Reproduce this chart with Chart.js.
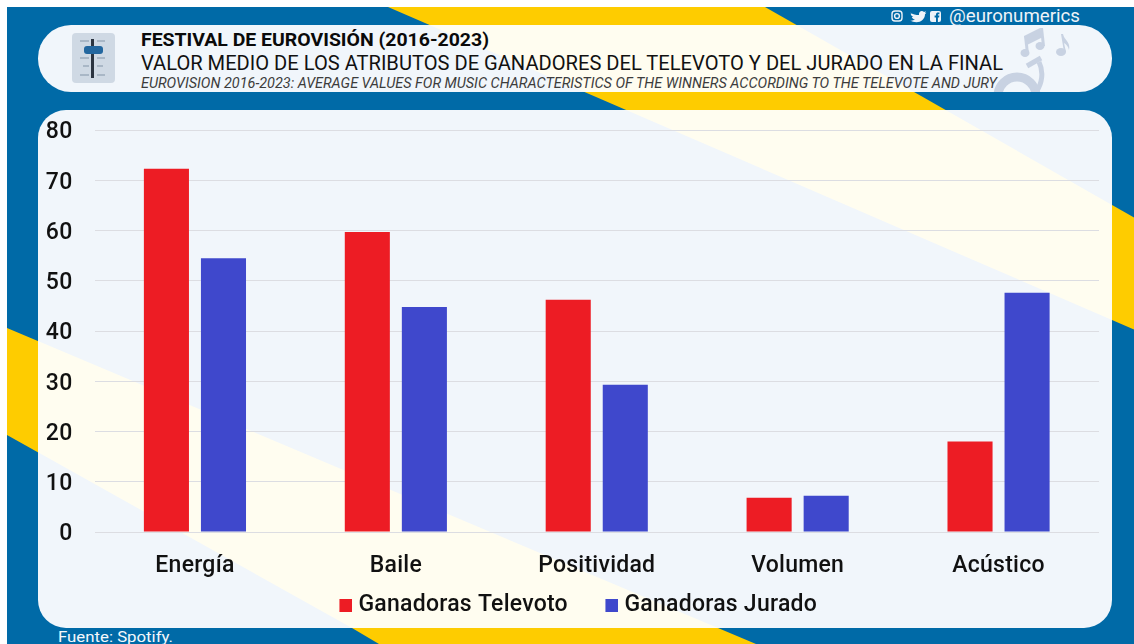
<!DOCTYPE html>
<html lang="es">
<head>
<meta charset="utf-8">
<title>Festival de Eurovisión</title>
<script src="https://cdn.jsdelivr.net/npm/chart.js@4"></script>
<style>
  html, body { margin: 0; padding: 0; background: #fff; overflow: hidden; }
  #stage { position: relative; width: 1134px; height: 644px; overflow: hidden; }
  #fondo { position: absolute; left: 0; top: 0; }
  #modelsChart { position: absolute; left: 38px; top: 110px; }
  text { font-family: Roboto, sans-serif; }
</style>
</head>
<body>
<div id="stage">
  <svg id="fondo" width="1134" height="644" viewBox="0 0 1134 644" xmlns="http://www.w3.org/2000/svg">
    <defs>
      <clipPath id="cabecera">
        <rect x="38" y="25" width="1074" height="67" rx="33" ry="33"/>
      </clipPath>
      <clipPath id="paneles">
        <rect x="38" y="25" width="1074" height="67" rx="33" ry="33"/>
        <rect x="38" y="110" width="1074" height="518" rx="28" ry="28"/>
      </clipPath>
    </defs>
    <!-- fondo azul con las franjas amarillas -->
    <rect x="7" y="7" width="1127" height="637" fill="#006aa7"/>
    <polygon points="388,7 765,7 1134,217.5 1134,329.5" fill="#fecc00"/>
    <polygon points="7,328 718,628 756,644 379,644 352,628 7,435" fill="#fecc00"/>

    <!-- paneles claros -->
    <rect x="38" y="25" width="1074" height="67" rx="33" ry="33" fill="#f1f6fb"/>
    <rect x="38" y="110" width="1074" height="518" rx="28" ry="28" fill="#f1f6fb"/>
    <g clip-path="url(#paneles)">
      <polygon points="388,7 765,7 1134,217.5 1134,329.5" fill="#fffdf0"/>
      <polygon points="7,328 718,628 756,644 379,644 352,628 7,435" fill="#fffdf0"/>
    </g>

    <!-- notas musicales y cantante de la cabecera -->
    <g clip-path="url(#cabecera)">
      <g fill="#c8d2e2">
        <polygon points="1024,36 1040,28 1043,37 1027,45"/>
        <polygon points="1024,36 1027,36 1029,54 1026,54"/>
        <polygon points="1040,28 1043,28 1045,46 1042,46"/>
        <ellipse cx="1025" cy="53" rx="4.5" ry="4"/>
        <ellipse cx="1040" cy="46" rx="4.5" ry="4"/>
        <path d="M1061 34 L1063 34 C1064 40 1071 42 1069 50 C1068 46 1066 44 1064 43 L1066 52 L1064 52 Z"/>
        <ellipse cx="1061" cy="52" rx="5" ry="4"/>
      </g>
      <g fill="none" stroke="#c8d2e2">
        <circle cx="1017" cy="96" r="19" stroke-width="9"/>
        <path d="M1027 66 L1041 58" stroke-width="5"/>
        <path d="M1039 62 C1044 72 1042 84 1036 92" stroke-width="5"/>
      </g>
    </g>

    <!-- icono de la mesa de mezclas -->
    <rect x="72" y="33" width="43" height="50" rx="4" ry="4" fill="#cfd9e4"/>
    <g fill="#a9b7c6">
      <rect x="80" y="40" width="9" height="2"/><rect x="97" y="40" width="8" height="2"/>
      <rect x="80" y="57" width="9" height="2"/><rect x="97" y="57" width="8" height="2"/>
      <rect x="83" y="65" width="6" height="2"/><rect x="97" y="65" width="6" height="2"/>
      <rect x="80" y="74" width="9" height="2"/><rect x="97" y="74" width="8" height="2"/>
    </g>
    <rect x="91" y="39" width="3" height="39" fill="#2b3440"/>
    <rect x="84" y="46" width="19" height="8" rx="3" ry="3" fill="#23679f"/>

    <!-- titulos -->
    <text x="141" y="46" font-size="19" font-weight="700" fill="#0a0a0a" textLength="348" lengthAdjust="spacingAndGlyphs">FESTIVAL DE EUROVISIÓN (2016-2023)</text>
    <text x="141" y="70" font-size="20" fill="#111" textLength="862" lengthAdjust="spacingAndGlyphs">VALOR MEDIO DE LOS ATRIBUTOS DE GANADORES DEL TELEVOTO Y DEL JURADO EN LA FINAL</text>
    <text x="141" y="88" font-size="14" font-style="italic" fill="#3c3c3c" textLength="856" lengthAdjust="spacingAndGlyphs">EUROVISION 2016-2023: AVERAGE VALUES FOR MUSIC CHARACTERISTICS OF THE WINNERS ACCORDING TO THE TELEVOTE AND JURY</text>

    <!-- redes y fuente -->
    <g fill="none" stroke="#eef3f8" stroke-width="1.4">
      <rect x="892" y="11" width="10" height="10" rx="3" ry="3"/>
      <circle cx="897" cy="16" r="2.4"/>
    </g>
    <path d="M910 12.5 C913 14.6 916 15 919 15 C918.5 11.5 922 10 924 12 L926 11.3 L925 13 L926.4 12.8 L925 14.3 C925 19 921 22.3 916.5 22.3 C914 22.3 912 21.6 910.4 20.6 C912 20.8 914 20.3 915 19.3 C913.5 19.3 912.3 18.4 911.8 17 L913.3 17 C911.7 16.4 910.7 15.2 910.7 13.6 L912.2 14.1 C911 13.2 910.6 12.5 910 12.5 Z" fill="#eef3f8"/>
    <rect x="930" y="11" width="11" height="11" rx="2" ry="2" fill="#eef3f8"/>
    <path d="M936 22 L936 17.5 L934.6 17.5 L934.6 15.6 L936 15.6 L936 14.6 C936 13.2 937 12.6 938.2 12.6 L939.4 12.6 L939.4 14.3 L938.6 14.3 C938 14.3 937.9 14.6 937.9 15 L937.9 15.6 L939.4 15.6 L939.1 17.5 L937.9 17.5 L937.9 22 Z" fill="#006aa7"/>
    <text x="949" y="21.5" font-size="17.5" fill="#eef3f8" textLength="131" lengthAdjust="spacingAndGlyphs">@euronumerics</text>
    <text x="58" y="642" font-size="15" fill="#f4f8fc" textLength="115" lengthAdjust="spacingAndGlyphs">Fuente: Spotify.</text>
  </svg>
  <canvas id="modelsChart" width="1074" height="518"></canvas>
</div>

<script>
// Valores medios por atributo musical
const categorias = ['Energía', 'Baile', 'Positividad', 'Volumen', 'Acústico'];
const televoto = [72.3, 59.7, 46.2, 6.8, 18];
const jurado = [54.5, 44.8, 29.3, 7.2, 47.6];
const ticksY = [0, 10, 20, 30, 40, 50, 60, 70, 80];

const colorTelevoto = '#ed1c24';
const colorJurado = '#3f48cc';
const fuente = { family: 'Roboto, sans-serif', size: 23, weight: '500' };

// Cuadro de la leyenda pegado al texto: el lienzo se centra en su hueco
// y el color ocupa solo el extremo derecho
function cuadroLeyenda(color) {
  const c = document.createElement('canvas');
  c.width = 46;
  c.height = 13;
  const g = c.getContext('2d');
  g.fillStyle = color;
  g.fillRect(c.width - 13, 0, 13, 13);
  return c;
}
const cuadros = [cuadroLeyenda(colorTelevoto), cuadroLeyenda(colorJurado)];

const ajustes = {
  id: 'ajustes',
  beforeUpdate: chart => { chart.ctx.letterSpacing = '0.25px'; },
  beforeDraw: chart => { chart.ctx.letterSpacing = '0.25px'; },
  // la leyenda va un poco a la izquierda del centro
  afterLayout: chart => {
    chart.legend.left -= 8;
  }
};

const ctx = document.getElementById('modelsChart').getContext('2d');
new Chart(ctx, {
  type: 'bar',
  plugins: [ajustes],
  data: {
    labels: categorias,
    datasets: [
      {
        label: 'Ganadoras Televoto',
        data: televoto,
        backgroundColor: colorTelevoto,
        categoryPercentage: 0.568,
        barPercentage: 0.79
      },
      {
        label: 'Ganadoras Jurado',
        data: jurado,
        backgroundColor: colorJurado,
        categoryPercentage: 0.568,
        barPercentage: 0.79
      }
    ]
  },
  options: {
    responsive: false,
    animation: false,
    layout: { padding: { left: 0, right: 13, top: 20, bottom: 1 } },
    scales: {
      x: {
        afterFit: axis => { axis.height = 52; },
        grid: { display: false },
        border: { display: false },
        ticks: { color: '#111', font: fuente, padding: 12 }
      },
      y: {
        min: 0,
        max: 80,
        afterBuildTicks: axis => { axis.ticks = ticksY.map(v => ({ value: v })); },
        afterFit: axis => {
          axis.width = 56.5;
          axis.paddingTop = 20;
        },
        grid: { color: '#dcdde2', lineWidth: 1, drawTicks: false },
        border: { display: false },
        ticks: { color: '#111', font: fuente, padding: 22, labelOffset: 2.5 }
      }
    },
    plugins: {
      tooltip: { enabled: false },
      legend: {
        position: 'bottom',
        labels: {
          color: '#111',
          font: fuente,
          usePointStyle: true,
          pointStyleWidth: 35,
          boxHeight: 13,
          padding: 10,
          generateLabels: chart => Chart.defaults.plugins.legend.labels.generateLabels(chart)
            .map((item, i) => ({ ...item, pointStyle: cuadros[i] }))
        }
      }
    }
  }
});
</script>
</body>
</html>
